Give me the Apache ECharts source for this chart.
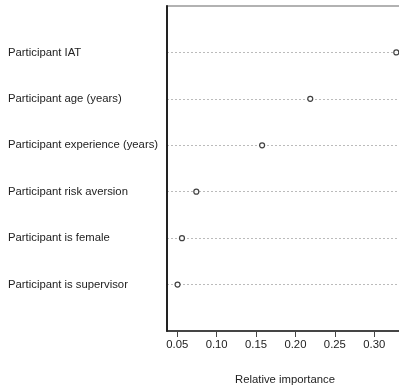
<!DOCTYPE html>
<html>
<head>
<meta charset="utf-8">
<script src="https://cdn.jsdelivr.net/npm/echarts@6/dist/echarts.min.js"></script>
<style>html,body{margin:0;padding:0;background:#fff}#c{width:399px;height:385px}</style>
</head>
<body>
<div id="c"></div>
<script>
// Categories, bottom to top
var categories = ['Participant is supervisor', 'Participant is female', 'Participant risk aversion', 'Participant experience (years)', 'Participant age (years)', 'Participant IAT'];
var importance = [0.0504, 0.056, 0.0742, 0.1577, 0.2188, 0.328];
var xTicks = [0.05, 0.10, 0.15, 0.20, 0.25, 0.30];
var xMin = 0.037, xMax = 0.3365;

var yData = [''].concat(categories).concat(['']);
var points = categories.map(function (c, i) { return [importance[i], c]; });

var chart = echarts.init(document.getElementById('c'), null, {renderer: 'canvas'});
chart.setOption({
  animation: false,
  backgroundColor: '#fff',
  grid: {left: 167, width: 236, top: 6, height: 325, show: true, borderColor: '#999', borderWidth: 1.5,
    containLabel: false, outerBoundsMode: 'none'},
  xAxis: {
    type: 'value', min: xMin, max: xMax,
    name: 'Relative importance', nameLocation: 'middle', nameGap: 43,
    nameTextStyle: {fontFamily: 'Liberation Sans, Arial', fontSize: 11.3, color: '#222'},
    axisLine: {show: true, lineStyle: {color: '#222', width: 1.5}},
    axisTick: {show: true, length: 6, customValues: xTicks, lineStyle: {color: '#444'}},
    axisLabel: {customValues: xTicks, margin: 8, fontFamily: 'Liberation Sans, Arial', fontSize: 11.3, color: '#222',
      formatter: function (v) { return v.toFixed(2); }},
    splitLine: {show: false}
  },
  yAxis: {
    type: 'category', data: yData, boundaryGap: false,
    axisLine: {show: true, lineStyle: {color: '#222', width: 2}},
    axisTick: {show: false},
    axisLabel: {align: 'left', margin: 159, fontFamily: 'Liberation Sans, Arial', fontSize: 11.3, color: '#222'},
    splitLine: {show: true, interval: function (i, v) { return v !== ''; }, lineStyle: {color: '#bbb', type: [2, 2], width: 1}}
  },
  series: [{
    type: 'scatter', data: points, symbol: 'circle', symbolSize: 5,
    itemStyle: {color: '#fff', borderColor: '#111', borderWidth: 1.2}
  }]
});
</script>
</body>
</html>
